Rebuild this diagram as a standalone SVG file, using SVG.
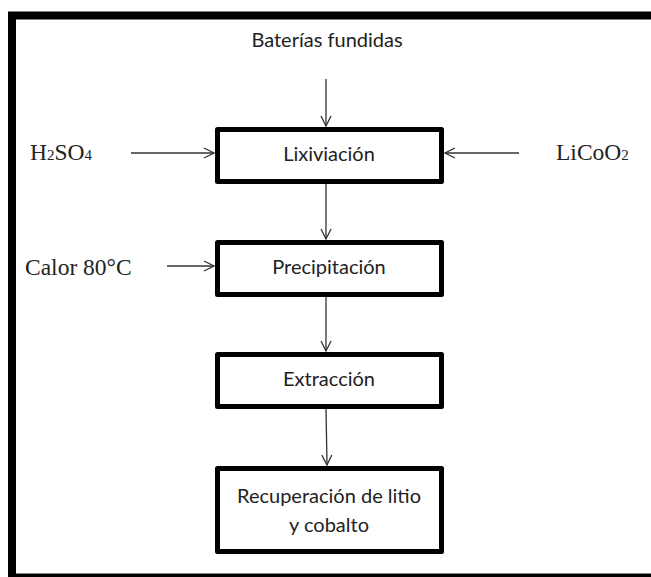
<svg xmlns="http://www.w3.org/2000/svg" width="651" height="577" viewBox="0 0 651 577">
  <defs>
    <style>
      .frame { fill: none; stroke: #000; stroke-width: 8; }
      .box { fill: #fff; stroke: #000; stroke-width: 5; stroke-linejoin: round; }
      .edge { fill: none; stroke: #333; stroke-width: 1.3; }
      .lbl { font-family: Lato, "Open Sans", sans-serif; font-size: 20px; fill: #222; text-anchor: middle; }
      .chem { font-family: "Liberation Serif", "Times New Roman", serif; font-size: 23.5px; fill: #222; }
      .sub { font-size: 15px; }
    </style>
    <marker id="arrow" viewBox="0 0 12 12" refX="11" refY="6" markerWidth="12" markerHeight="12" markerUnits="userSpaceOnUse" orient="auto">
      <path d="M1,1 L11,6 L1,11" fill="none" stroke="#333" stroke-width="1.3"/>
    </marker>
  </defs>

  <rect width="651" height="577" fill="#fff"/>
  <!-- outer frame, right and bottom sides run past the canvas -->
  <rect class="frame" x="12" y="15.5" width="660" height="562"/>

  <g id="connectors">
    <line class="edge" x1="326" y1="79" x2="326" y2="126" marker-end="url(#arrow)"/>
    <line class="edge" x1="131" y1="153" x2="214" y2="153" marker-end="url(#arrow)"/>
    <line class="edge" x1="519" y1="153" x2="445" y2="153" marker-end="url(#arrow)"/>
    <line class="edge" x1="326" y1="184" x2="326" y2="239" marker-end="url(#arrow)"/>
    <line class="edge" x1="167" y1="266" x2="214" y2="266" marker-end="url(#arrow)"/>
    <line class="edge" x1="326" y1="297" x2="326" y2="351" marker-end="url(#arrow)"/>
    <line class="edge" x1="326" y1="409" x2="327" y2="465" marker-end="url(#arrow)"/>
  </g>

  <g id="baterias">
    <text class="lbl" x="327" y="47">Baterías fundidas</text>
  </g>
  <g id="h2so4">
    <text class="chem" x="30" y="160">H<tspan class="sub">2</tspan>SO<tspan class="sub">4</tspan></text>
  </g>
  <g id="licoo2">
    <text class="chem" x="556" y="160">LiCoO<tspan class="sub">2</tspan></text>
  </g>
  <g id="calor">
    <text class="chem" x="25" y="275">Calor 80°C</text>
  </g>

  <g id="lixiviacion">
    <rect class="box" x="217.5" y="129.5" width="224" height="52"/>
    <text class="lbl" x="329" y="161">Lixiviación</text>
  </g>
  <g id="precipitacion">
    <rect class="box" x="217.5" y="242.5" width="224" height="52"/>
    <text class="lbl" x="329" y="274">Precipitación</text>
  </g>
  <g id="extraccion">
    <rect class="box" x="217.5" y="354.5" width="224" height="52"/>
    <text class="lbl" x="329" y="386">Extracción</text>
  </g>
  <g id="recuperacion">
    <rect class="box" x="217.5" y="468.5" width="224" height="83"/>
    <text class="lbl" x="329" y="503">Recuperación de litio</text>
    <text class="lbl" x="329" y="532">y cobalto</text>
  </g>
</svg>
